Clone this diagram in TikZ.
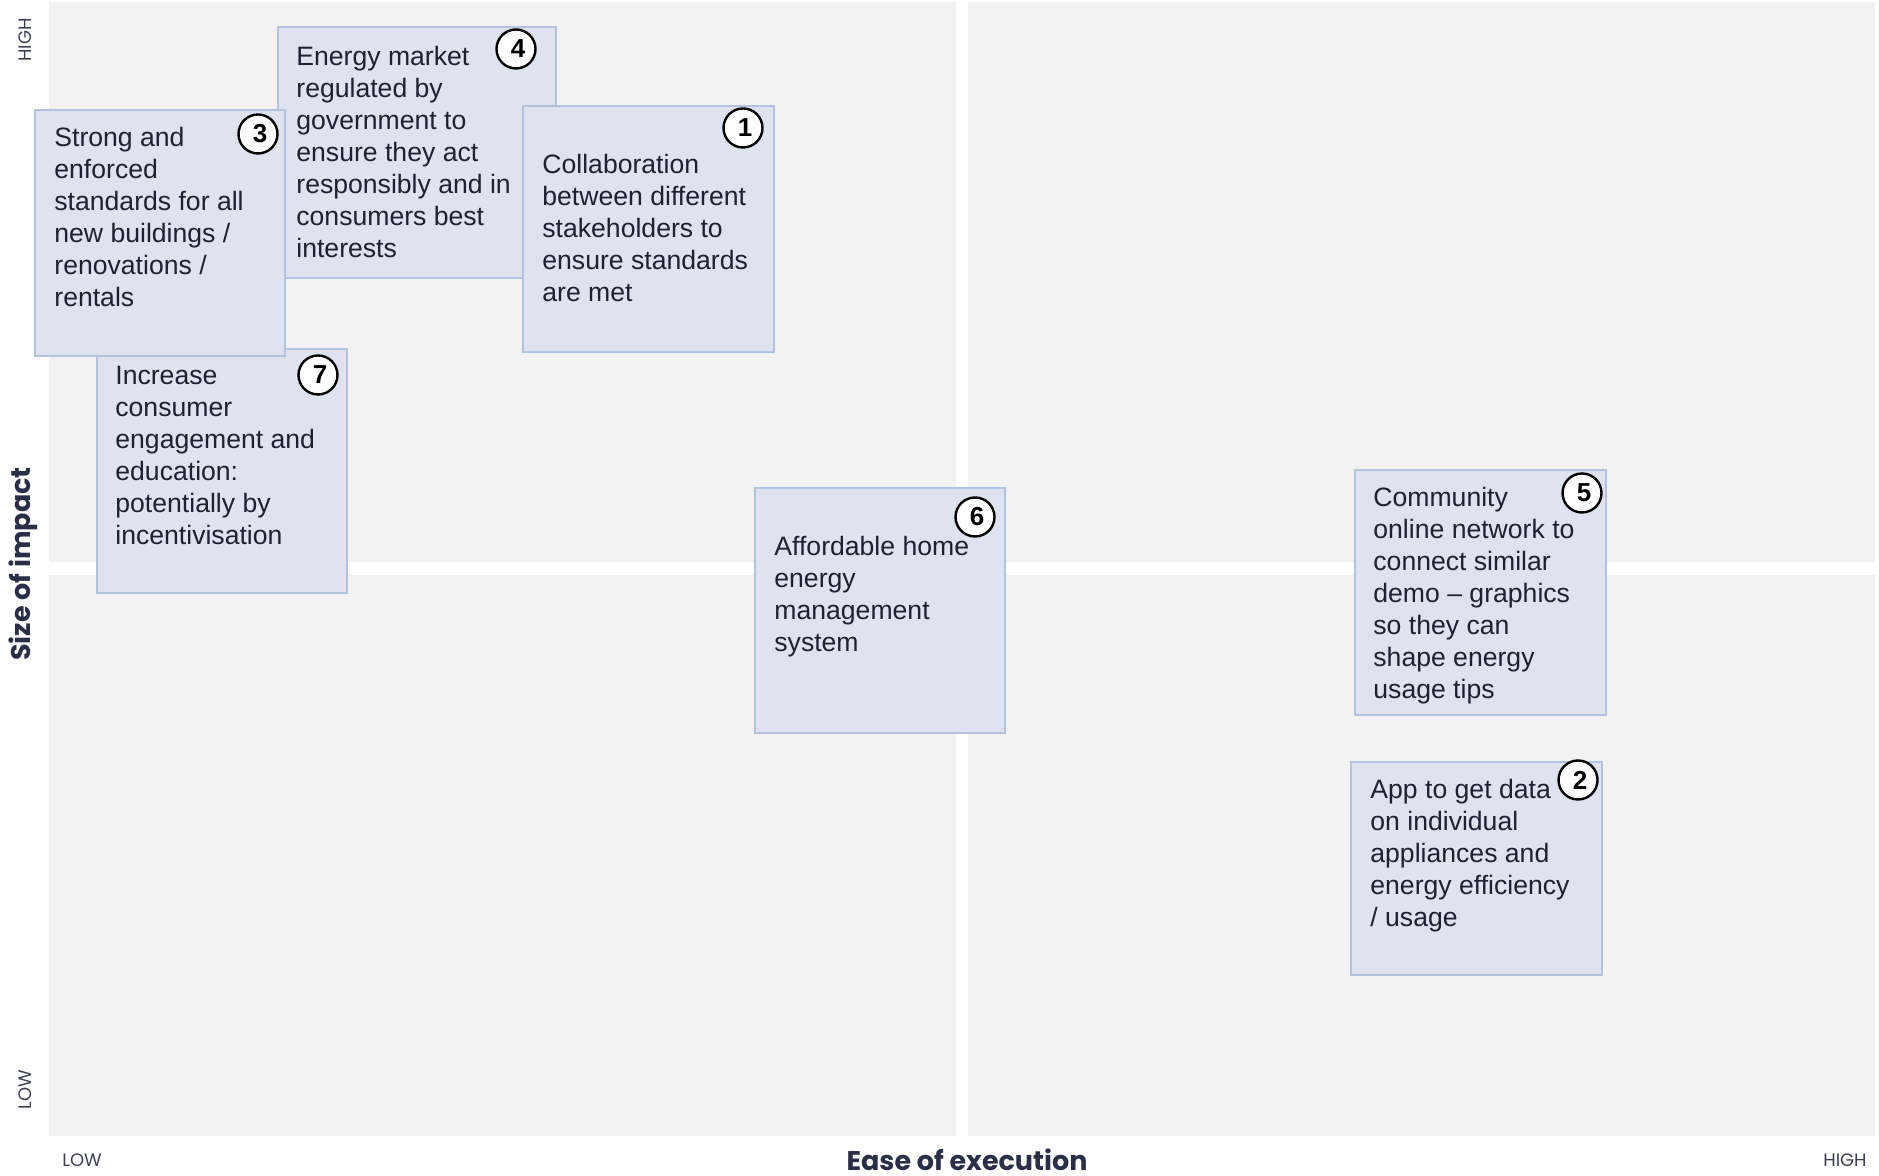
\documentclass[tikz,border=0pt]{standalone}
\usepackage{fontspec}
\setmainfont{Liberation Sans}
\newfontfamily\axisfont{Poppins}
\usetikzlibrary{positioning}
\definecolor{quadgray}{HTML}{F2F2F2}
\definecolor{cardfill}{HTML}{DFE3EF}
\definecolor{cardline}{HTML}{B3C2DD}
\definecolor{inktext}{HTML}{1E2230}
\definecolor{axisink}{HTML}{2B2F45}
\definecolor{endink}{HTML}{3C3F4E}

\begin{document}
\begin{tikzpicture}[x=0.5pt,y=0.5pt,
    card/.style={draw=cardline,fill=cardfill,line width=1.2pt,anchor=north west,inner sep=0pt},
    cardtext/.style={inner sep=0pt,align=left,text=inktext,font=\fontsize{13.3}{16}\selectfont},
    num/.style={circle,draw=black,fill=white,line width=1.2pt,minimum size=19.5pt,inner sep=0pt,font=\bfseries\fontsize{13}{13}\selectfont},
    endlabel/.style={inner sep=0pt,text=endink,font=\axisfont\fontsize{9}{9}\selectfont},
    axistitle/.style={inner sep=0pt,text=axisink,font=\axisfont\bfseries\fontsize{13.5}{13.5}\selectfont}]
    \useasboundingbox (0,0) rectangle (1879,1176);
    \fill[quadgray] (49,614) rectangle (956,1174);
    \fill[quadgray] (968,614) rectangle (1875,1174);
    \fill[quadgray] (49,40) rectangle (956,601);
    \fill[quadgray] (968,40) rectangle (1875,601);

    \node[card,minimum width=139pt,minimum height=125.5pt] (c4) at (277,1150) {};
    \node[cardtext,below right=10pt and 9.5pt of c4.north west] (t4) {Energy market\\regulated by\\government to\\ensure they act\\responsibly and in\\consumers best\\interests};
    \node[num] (n4) at (516,1127) {\hspace*{2pt}4};

    \node[card,minimum width=125pt,minimum height=122pt] (c7) at (96,828) {};
    \node[cardtext,below right=9pt and 9.5pt of c7.north west] (t7) {Increase\\consumer\\engagement and\\education:\\potentially by\\incentivisation};
    \node[num] (n7) at (318,801) {\hspace*{2pt}7};

    \node[card,minimum width=125pt,minimum height=123pt] (c3) at (34,1067) {};
    \node[cardtext,below right=9pt and 10pt of c3.north west] (t3) {Strong and\\enforced\\standards for all\\new buildings /\\renovations /\\rentals};
    \node[num] (n3) at (258,1042) {\hspace*{2pt}3};

    \node[card,minimum width=125.5pt,minimum height=123pt] (c1) at (522,1071) {};
    \node[cardtext,below right=24.5pt and 10pt of c1.north west] (t1) {Collaboration\\between different\\stakeholders to\\ensure standards\\are met};
    \node[num] (n1) at (743,1048) {\hspace*{2pt}1};

    \node[card,minimum width=125pt,minimum height=122.5pt] (c6) at (754,689) {};
    \node[cardtext,below right=24.5pt and 10pt of c6.north west] (t6) {Affordable home\\energy\\management\\system};
    \node[num] (n6) at (975,659) {\hspace*{2pt}6};

    \node[card,minimum width=125.5pt,minimum height=122.5pt] (c5) at (1354,707) {};
    \node[cardtext,below right=9pt and 9.5pt of c5.north west] (t5) {Community\\online network to\\connect similar\\demo -- graphics\\so they can\\shape energy\\usage tips};
    \node[num] (n5) at (1582,683) {\hspace*{2pt}5};

    \node[card,minimum width=125.5pt,minimum height=106.5pt] (c2) at (1350,415) {};
    \node[cardtext,below right=9pt and 10pt of c2.north west] (t2) {App to get data\\on individual\\appliances and\\energy efficiency\\/ usage};
    \node[num] (n2) at (1578,396) {\hspace*{2pt}2};

    \node[endlabel,rotate=90] (yhigh) at (25,1136) {HIGH};
    \node[endlabel,rotate=90] (ylow) at (25,86) {LOW};
    \node[axistitle,rotate=90] (ytitle) at (23,612) {Size of impact};
    \node[axistitle] (xtitle) at (967,16) {Ease of execution};
    \node[endlabel] (xlow) at (82,16) {LOW};
    \node[endlabel] (xhigh) at (1845,16) {HIGH};
\end{tikzpicture}
\end{document}
